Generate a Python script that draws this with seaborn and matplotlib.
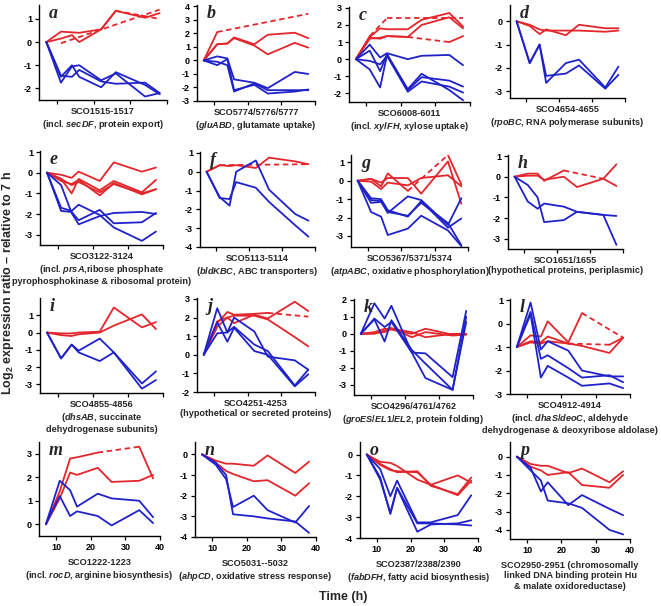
import numpy as np
import pandas as pd
import matplotlib
matplotlib.use("Agg")
import matplotlib.pyplot as plt
import seaborn as sns

nan = np.nan

# sampling times (h); all series relative to 7 h
hours = [7, 11, 14, 16, 22, 26, 34, 38]

# ---- data (nan = missing point, bridged by a dashed line)
a_red = [[0, 0.45, 0.42, 0.40, 0.55, 1.35, 1.05, 1.25],
         [0, 0.15, 0.30, 0.00, 0.55, 1.35, nan, 1.00],
         [nan, -0.05, nan, nan, nan, nan, nan, 1.40]]
a_blue = [[0, -1.75, -1.05, -1.00, -1.65, -1.35, -2.35, -2.20],
          [0, -1.50, -1.00, -1.50, -1.95, -1.30, -1.85, -2.25],
          [0, -1.45, -1.50, -1.20, -1.70, -1.80, -1.75, -2.20]]

b_red = [[0, 2.10, nan, nan, nan, nan, nan, 3.45],
         [0, 1.20, 1.25, 1.70, 1.20, 1.90, 2.05, 1.65],
         [0, 1.20, 1.25, 1.65, 1.10, 0.45, 1.30, 0.95]]
b_blue = [[0, 0.30, 0.15, -1.40, -1.65, -2.05, -0.85, -1.00],
          [0, -0.10, -0.35, -2.30, -1.70, -2.20, -2.20, -2.20],
          [0, -0.35, 0.10, -2.20, -1.80, -2.45, -2.30, -2.15]]

c_red = [[0, 1.35, nan, 2.40, nan, nan, nan, 2.40],
         [0, 1.25, 1.20, 1.35, 1.30, nan, 1.00, 1.35],
         [0, 1.30, 1.80, 1.75, 1.75, 2.30, 2.70, 1.90],
         [0, 1.20, 1.25, 1.35, 1.30, 2.00, 2.45, 1.80]]
c_blue = [[0, 0.85, 0.10, 0.35, 0.00, 0.20, 0.25, -0.35],
          [0, 0.50, -0.70, 0.30, -1.80, -1.05, -1.25, -1.60],
          [0, -0.10, -0.30, 0.20, -1.90, -1.30, -1.60, -1.95],
          [0, -0.60, -1.65, 0.25, -1.75, -0.85, -1.80, -2.40]]

d_red = [[0, -0.20, -0.55, -0.35, -0.60, -0.15, -0.30, -0.30],
         [0, -0.15, -0.35, -0.40, -0.40, -0.40, -0.45, -0.40]]
d_blue = [[0, -1.80, -1.00, -2.65, -1.80, -1.65, -2.85, -1.95],
          [0, -1.80, -1.00, -2.35, -2.25, -1.90, -2.90, -2.30]]

e_red = [[0, -0.10, -0.25, 0.05, -0.40, 0.50, 0.05, 0.25],
         [0, -0.30, -1.00, -0.30, -0.85, -0.40, -0.95, -0.35],
         [0, -0.40, -0.55, -0.35, -1.10, -0.50, -1.05, -0.80],
         [0, -0.30, -0.60, -0.45, -0.95, -0.55, -1.00, -0.80]]
e_blue = [[0, -0.60, -1.95, -2.50, -2.10, -1.95, -1.90, -2.00],
          [0, -1.70, -1.85, -1.55, -2.05, -2.65, -3.30, -2.85],
          [0, -1.85, -1.90, -2.30, -1.80, -2.45, -2.40, -1.95]]

f_red = [[0, 0.35, nan, nan, nan, nan, nan, 0.40],
         [0, 0.35, 0.30, 0.35, 0.20, 0.75, 0.55, 0.40]]
f_blue = [[0, -1.35, -1.80, 0.00, 0.60, -0.95, -2.25, -2.60],
          [0, -1.40, -1.45, -0.55, -0.85, -1.60, -2.85, -3.45]]

g_red = [[0, 0.10, -0.30, 0.40, -0.55, nan, 1.40, -0.20],
         [0, 0.10, -0.10, 0.15, 0.15, -0.70, 1.05, -1.25],
         [0, -0.05, -0.45, -0.10, -0.25, 0.15, 0.30, -0.30]]
g_blue = [[0, -1.05, -1.10, -1.75, -0.85, -1.05, -2.40, -0.95],
          [0, -0.95, -1.00, -1.60, -1.95, -1.10, -2.55, -2.05],
          [0, -1.20, -1.15, -1.70, -1.90, -1.20, -2.30, -3.50],
          [0, -1.70, -1.95, -2.95, -2.60, -1.90, -2.70, -3.55]]

h_red = [[0, 0.15, 0.15, -0.20, 0.30, nan, -0.10, 0.60],
         [0, 0.05, 0.05, -0.15, 0.00, -0.50, -0.10, -0.45]]
h_blue = [[0, -0.40, -1.00, -2.20, -2.10, -1.70, -1.85, -1.90],
          [0, -1.20, -1.55, -1.30, -1.45, -1.70, -1.85, -3.30]]

i_red = [[0, -0.05, -0.05, 0.00, 0.05, 1.45, 0.30, 0.60],
         [0, -0.15, -0.20, -0.10, 0.00, 0.40, 1.05, 0.20]]
i_blue = [[0, -1.50, -0.70, -1.15, -1.65, -1.15, -2.95, -2.25],
          [0, -1.50, -0.70, -1.05, -0.35, -1.15, -3.25, -2.75]]

j_red = [[0, 1.70, 2.30, 2.15, 2.20, 2.25, nan, 2.05],
         [0, 1.50, 2.00, 1.70, 2.15, 1.95, 2.85, 2.35],
         [0, 1.80, 2.00, 2.10, 2.10, 1.90, 0.95, 0.45]]
j_blue = [[0, 2.50, 1.20, 2.00, 1.25, -0.10, -0.30, -0.80],
          [0, 1.15, 1.20, 1.50, 0.55, 0.20, -1.65, -0.80],
          [0, 1.75, 0.70, 1.45, 0.20, 0.00, -1.70, -1.05]]

k_red = [[0, 0.10, 0.30, 0.25, 0.00, 0.30, -0.05, 0.00],
         [0, 0.00, 0.20, 0.35, -0.20, 0.10, -0.10, -0.05],
         [0, 0.05, 0.10, 0.30, 0.10, -0.20, 0.00, 0.00]]
k_blue = [[0, 1.80, 0.90, 1.65, -1.10, -1.15, -2.55, 1.35],
          [0, 0.85, -0.45, 0.80, -0.95, -1.75, -3.30, 1.00],
          [0, 0.90, 0.40, 0.70, -1.10, -2.60, -3.30, 0.70]]

l_red = [[-1, -0.50, -0.55, 0.10, -0.80, 0.45, nan, -0.60],
         [-1, -0.75, -0.80, -0.55, -0.85, nan, -0.90, -0.60],
         [-1, -0.80, -0.85, -0.75, -0.85, -0.95, -1.25, -0.60]]
l_blue = [[-1, 0.90, -1.10, -0.75, -1.15, -2.00, -2.25, -2.25],
          [-1, 0.50, -1.50, -1.35, -1.90, -2.30, -2.20, -2.50],
          [-1, 0.40, -2.30, -1.80, -2.30, -2.65, -2.55, -2.75]]

m_red = [[0, 1.40, 2.80, 2.85, 3.05, nan, 3.30, 1.95],
         [0, 1.10, 2.20, 2.10, 2.40, 1.80, 1.85, 2.10]]
m_blue = [[0, 1.85, 1.45, 0.75, 1.30, 1.10, 1.00, 0.30],
          [0, 1.20, 0.35, 0.55, 0.35, -0.05, 0.60, 0.05]]

n_red = [[0, -0.30, -0.45, -0.45, -0.55, -0.05, -0.90, -0.35],
         [0, -0.40, -0.80, -0.95, -1.30, -1.25, -2.00, -1.40]]
n_blue = [[0, -0.50, -1.20, -2.55, -2.00, -2.70, -3.30, -2.50],
          [0, -0.40, -1.00, -2.90, -3.00, -3.10, -3.25, -3.80]]

o_red = [[0, -0.35, -0.40, -0.55, -1.20, -1.45, -1.00, -1.35],
         [0, -0.45, -0.70, -0.85, -0.80, -1.50, -1.90, -1.10],
         [0, -0.50, -0.75, -0.80, -0.85, -1.45, -1.95, -1.25]]
o_blue = [[0, -0.70, -2.00, -1.25, -3.25, -3.25, -2.90, -1.95],
          [0, -1.10, -2.85, -1.60, -3.70, -3.35, -3.30, -3.15],
          [0, -1.20, -2.80, -1.60, -3.30, -3.30, -3.35, -3.40]]

p_red = [[0, -0.40, -0.50, -0.50, -0.90, -0.65, -1.40, -0.80],
         [0, -0.55, -0.75, -1.00, -0.85, -1.55, -1.70, -1.00]]
p_blue = [[0, -0.60, -1.90, -1.40, -2.65, -2.10, -2.85, -3.20],
          [0, -0.75, -1.30, -2.40, -2.55, -2.80, -4.00, -4.25]]

captions = {
    "a": "SCO1515-1517\n(incl. $\\it{secDF}$, protein export)",
    "b": "SCO5774/5776/5777\n($\\it{gluABD}$, glutamate uptake)",
    "c": "SCO6008-6011\n(incl. $\\it{xylFH}$, xylose uptake)",
    "d": "SCO4654-4655\n($\\it{rpoBC}$, RNA polymerase subunits)",
    "e": "SCO3122-3124\n(incl. $\\it{prsA}$,ribose phosphate\npyrophosphokinase & ribosomal protein)",
    "f": "SCO5113-5114\n($\\it{bldKBC}$, ABC transporters)",
    "g": "SCO5367/5371/5374\n($\\it{atpABC}$, oxidative phosphorylation)",
    "h": "SCO1651/1655\n(hypothetical proteins, periplasmic)",
    "i": "SCO4855-4856\n($\\it{dhsAB}$, succinate\ndehydrogenase subunits)",
    "j": "SCO4251-4253\n(hypothetical or secreted proteins)",
    "k": "SCO4296/4761/4762\n($\\it{groES/EL1/EL2}$, protein folding)",
    "l": "SCO4912-4914\n(incl. $\\it{dhaS/deoC}$, aldehyde\ndehydrogenase & deoxyribose aldolase)",
    "m": "SCO1222-1223\n(incl. $\\it{rocD}$, arginine biosynthesis)",
    "n": "SCO5031--5032\n($\\it{ahpCD}$, oxidative stress response)",
    "o": "SCO2387/2388/2390\n($\\it{fabDFH}$, fatty acid biosynthesis)",
    "p": "SCO2950-2951 (chromosomally\nlinked DNA binding protein Hu\n& malate oxidoreductase)",
}

panels = {
    "a": (a_red, a_blue), "b": (b_red, b_blue), "c": (c_red, c_blue), "d": (d_red, d_blue),
    "e": (e_red, e_blue), "f": (f_red, f_blue), "g": (g_red, g_blue), "h": (h_red, h_blue),
    "i": (i_red, i_blue), "j": (j_red, j_blue), "k": (k_red, k_blue), "l": (l_red, l_blue),
    "m": (m_red, m_blue), "n": (n_red, n_blue), "o": (o_red, o_blue), "p": (p_red, p_blue),
}

# y range and y ticks of each panel
y_ranges = {
    "a": ((-2.5, 1.6), [-2, -1, 0, 1]),
    "b": ((-3, 4.1), [-3, -2, -1, 0, 1, 2, 3, 4]),
    "c": ((-2.5, 3.05), [-2, -1, 0, 1, 2, 3]),
    "d": ((-3.3, 0.7), [-3, -2, -1, 0]),
    "e": ((-3.5, 1.05), [-3, -2, -1, 0, 1]),
    "f": ((-4, 1.05), [-4, -3, -2, -1, 0, 1]),
    "g": ((-3.6, 1.4), [-3, -2, -1, 0, 1]),
    "h": ((-3.5, 1.05), [-3, -2, -1, 0, 1]),
    "i": ((-3.5, 2.0), [-3, -2, -1, 0, 1]),
    "j": ((-2, 3.05), [-2, -1, 0, 1, 2, 3]),
    "k": ((-3.6, 2.05), [-3, -2, -1, 0, 1, 2]),
    "l": ((-3, 1.05), [-3, -2, -1, 0, 1]),
    "m": ((-0.5, 3.5), [0, 1, 2, 3]),
    "n": ((-4, 0.6), [-4, -3, -2, -1, 0]),
    "o": ((-4, 0.6), [-4, -3, -2, -1, 0]),
    "p": ((-4.5, 0.8), [-4, -3, -2, -1, 0]),
}

# axes boxes in pixels: left, right, top, bottom
boxes = {
    "a": (39, 167, 5, 100), "b": (197, 315, 5, 101), "c": (349, 470, 7, 102), "d": (510, 625, 5, 98),
    "e": (40, 163, 151, 245), "f": (200, 315, 152, 247), "g": (351, 468, 155, 247), "h": (508, 623, 155, 249),
    "i": (40, 163, 298, 393), "j": (197, 315, 298, 392), "k": (354, 473, 299, 395), "l": (510, 630, 299, 394),
    "m": (39, 160, 442, 536), "n": (195, 316, 442, 537), "o": (360, 478, 442, 538), "p": (510, 630, 442, 539),
}

RED = "#e3262b"
BLUE = "#1f22c9"
W, H = 661, 606

sns.set_style("ticks")
plt.rcParams["font.family"] = ["Liberation Sans", "DejaVu Sans"]
plt.rcParams["mathtext.fontset"] = "custom"
plt.rcParams["mathtext.rm"] = "Liberation Sans:bold"
plt.rcParams["mathtext.it"] = "Liberation Sans:italic:bold"
plt.rcParams["mathtext.bf"] = "Liberation Sans:bold"
plt.rcParams["axes.unicode_minus"] = False


def to_frames(series_list):
    """split each series into solid runs and dashed bridges over missing points"""
    solid, dashed = [], []
    for k, vals in enumerate(series_list):
        idx = [i for i, v in enumerate(vals) if not np.isnan(v)]
        runs = [[idx[0]]]
        for i0, i1 in zip(idx[:-1], idx[1:]):
            if i1 == i0 + 1:
                runs[-1].append(i1)
            else:
                dashed += [(f"{k}_{i0}", hours[i], vals[i]) for i in (i0, i1)]
                runs.append([i1])
        for r, run in enumerate(runs):
            if len(run) > 1:
                solid += [(f"{k}_{r}", hours[i], vals[i]) for i in run]
    cols = ["seg", "t", "v"]
    return pd.DataFrame(solid, columns=cols), pd.DataFrame(dashed, columns=cols)


def draw_panel(ax, red, blue):
    for series, color in ((red, RED), (blue, BLUE)):
        solid, dashed = to_frames(series)
        if len(dashed):
            sns.lineplot(data=dashed, x="t", y="v", units="seg", estimator=None, sort=False,
                         color=color, lw=1.3, linestyle=(0, (3, 2)), ax=ax)
        if len(solid):
            sns.lineplot(data=solid, x="t", y="v", units="seg", estimator=None, sort=False,
                         color=color, lw=1.3, ax=ax)


fig = plt.figure(figsize=(W / 100, H / 100), dpi=100)

for key, (red, blue) in panels.items():
    l, r, t, b = boxes[key]
    ax = fig.add_axes([l / W, 1 - b / H, (r - l) / W, (b - t) / H])
    draw_panel(ax, red, blue)
    lims, yt = y_ranges[key]
    ax.set_xlim(5, 40)
    ax.set_ylim(*lims)
    ax.set_xticks([10, 20, 30, 40])
    ax.set_yticks(yt)
    ax.set_xlabel("")
    ax.set_ylabel("")
    sns.despine(ax=ax)
    for s in ("left", "bottom"):
        ax.spines[s].set_linewidth(1.0)
        ax.spines[s].set_color("black")
    ax.tick_params(length=3, width=0.9, labelsize=6.5, pad=2, colors="black")
    bottom_row = key in "mnop"
    if not bottom_row:
        ax.tick_params(axis="x", labelbottom=False)
    for lab in ax.get_xticklabels() + ax.get_yticklabels():
        lab.set_fontweight("bold")
    ax.text(10 / (r - l), 1.0, key, transform=ax.transAxes, ha="left", va="top",
            fontsize=13, fontweight="bold", fontstyle="italic", family="Liberation Serif")
    cap_y = b + (22 if bottom_row else 7)
    fig.text(((l + r) / 2) / W, 1 - cap_y / H, captions[key], ha="center", va="top",
             fontsize=6.6, fontweight="bold", linespacing=1.2)

fig.text(8 / W, 1 - 283 / H, "Log$_2$ expression ratio \u2013 relative to 7 h", rotation=90,
         ha="center", va="center", fontsize=9, fontweight="bold")
fig.text(343 / W, 1 - 597 / H, "Time (h)", ha="center", va="center",
         fontsize=9, fontweight="bold")

fig.savefig("out.png", dpi=100)
